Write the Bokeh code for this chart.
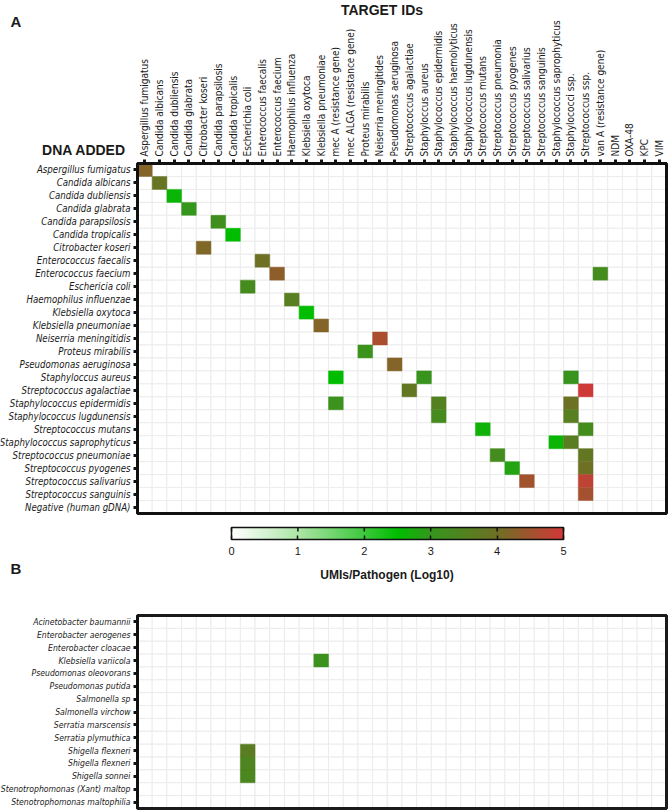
import math
import numpy as np
from bokeh.plotting import figure
from bokeh.models import (Range1d, LinearColorMapper, ColumnDataSource, Label, FixedTicker,
                          LinearAxis, CustomJSTickFormatter)
from bokeh.transform import transform
from bokeh.layouts import column
from bokeh.embed import file_html
from bokeh.resources import INLINE

# ---------------- data ----------------
target_ids = [
    "Aspergillus fumigatus", "Candida albicans", "Candida dubliensis", "Candida glabrata",
    "Citrobacter koseri", "Candida parapsilosis", "Candida tropicalis", "Escherichia coli",
    "Enterococcus faecalis", "Enterococcus faecium", "Haemophilus influenza",
    "Klebsiella oxytoca", "Klebsiella pneumoniae", "mec A (resistance gene)",
    "mec ALGA (resistance gene)", "Proteus mirabilis", "Neiserria meningitides",
    "Pseudomonas aeruginosa", "Streptococcus agalactiae", "Staphyloccus aureus",
    "Staphylococcus epidermidis", "Staphylococcus haemolyticus", "Staphylococcus lugdunensis",
    "Streptococcus mutans", "Streptococcus pneumonia", "Streptococcus pyogenes",
    "Streptococcus salivarius", "Streptococcus sanguinis", "Staphylococcus saprophyticus",
    "Staphylococci ssp.", "Streptococcus ssp.", "van A (resistance gene)",
    "NDM", "OXA-48", "KPC", "VIM",
]

dna_added_a = [
    "Aspergillus fumigatus", "Candida albicans", "Candida dubliensis", "Candida glabrata",
    "Candida parapsilosis", "Candida tropicalis", "Citrobacter koseri", "Enterococcus faecalis",
    "Enterococcus faecium", "Eschericia coli", "Haemophilus influenzae", "Klebsiella oxytoca",
    "Klebsiella pneumoniae", "Neiserria meningitidis", "Proteus mirabilis",
    "Pseudomonas aeruginosa", "Staphyloccus aureus", "Streptococcus agalactiae",
    "Staphylococcus epidermidis", "Staphylococcus lugdunensis", "Streptococcus mutans",
    "Staphylococcus saprophyticus", "Streptococcus pneumoniae", "Streptococcus pyogenes",
    "Streptococcus salivarius", "Streptococcus sanguinis", "Negative (human gDNA)",
]

dna_added_b = [
    "Acinetobacter baumannii", "Enterobacter aerogenes", "Enterobacter cloacae",
    "Klebsiella variicola", "Pseudomonas oleovorans", "Pseudomonas putida", "Salmonella sp",
    "Salmonella virchow", "Serratia marscensis", "Serratia plymuthica", "Shigella flexneri",
    "Shigella flexneri", "Shigella sonnei", "Stenotrophomonas (Xant) maltop",
    "Stenotrophomonas maltophilia",
]

# panel A detections (row = DNA added, col = target ID, value = log10 UMIs)
a_rows = [
    "Aspergillus fumigatus", "Candida albicans", "Candida dubliensis", "Candida glabrata",
    "Candida parapsilosis", "Candida tropicalis", "Citrobacter koseri", "Enterococcus faecalis",
    "Enterococcus faecium", "Enterococcus faecium", "Eschericia coli", "Haemophilus influenzae",
    "Klebsiella oxytoca", "Klebsiella pneumoniae", "Neiserria meningitidis", "Proteus mirabilis",
    "Pseudomonas aeruginosa", "Staphyloccus aureus", "Staphyloccus aureus", "Staphyloccus aureus",
    "Streptococcus agalactiae", "Streptococcus agalactiae", "Staphylococcus epidermidis",
    "Staphylococcus epidermidis", "Staphylococcus epidermidis", "Staphylococcus lugdunensis",
    "Staphylococcus lugdunensis", "Streptococcus mutans", "Streptococcus mutans",
    "Staphylococcus saprophyticus", "Staphylococcus saprophyticus", "Streptococcus pneumoniae",
    "Streptococcus pneumoniae", "Streptococcus pyogenes", "Streptococcus pyogenes",
    "Streptococcus salivarius", "Streptococcus salivarius", "Streptococcus sanguinis",
]
a_cols = [
    "Aspergillus fumigatus", "Candida albicans", "Candida dubliensis", "Candida glabrata",
    "Candida parapsilosis", "Candida tropicalis", "Citrobacter koseri", "Enterococcus faecalis",
    "Enterococcus faecium", "van A (resistance gene)", "Escherichia coli", "Haemophilus influenza",
    "Klebsiella oxytoca", "Klebsiella pneumoniae", "Neiserria meningitides", "Proteus mirabilis",
    "Pseudomonas aeruginosa", "mec A (resistance gene)", "Staphyloccus aureus", "Staphylococci ssp.",
    "Streptococcus agalactiae", "Streptococcus ssp.", "mec A (resistance gene)",
    "Staphylococcus epidermidis", "Staphylococci ssp.", "Staphylococcus epidermidis",
    "Staphylococci ssp.", "Streptococcus mutans", "Streptococcus ssp.",
    "Staphylococcus saprophyticus", "Staphylococci ssp.", "Streptococcus pneumonia",
    "Streptococcus ssp.", "Streptococcus pyogenes", "Streptococcus ssp.",
    "Streptococcus salivarius", "Streptococcus ssp.", "Streptococcus ssp.",
]
a_vals = [
    4.2, 3.85, 2.6, 3.0,
    3.2, 2.5, 4.15, 4.0,
    4.3, 3.25, 3.3, 3.6,
    2.5, 4.2, 4.6, 3.1,
    4.2, 2.5, 3.05, 3.05,
    3.8, 4.95, 3.1,
    3.55, 3.95, 3.3,
    3.6, 2.65, 3.25,
    2.6, 3.65, 3.25,
    3.8, 2.85, 4.0,
    4.5, 4.8, 4.55,
]

# panel B detections (row index in dna_added_b, col = target ID)
b_row_idx = [3, 10, 11, 12]
b_cols = ["Klebsiella pneumoniae", "Escherichia coli", "Escherichia coli", "Escherichia coli"]
b_vals = [3.1, 3.65, 3.45, 3.4]

cbar_ticks = [0, 1, 2, 3, 4, 5]

# ---------------- styling / layout constants ----------------
NARROW = "'Liberation Sans Narrow', 'Arial Narrow', 'DejaVu Sans Condensed', 'Liberation Sans', sans-serif"
SANS = "'Liberation Sans', Arial, sans-serif"
TXT = "#1a1a1a"
W = 669
HM_L, HM_R = 137, 666                      # heat-map box, page x
COL_W = (HM_R - HM_L) / len(target_ids)

anchor_v = [0, 1, 2, 2.5, 3, 4, 5]
anchor_c = [(255, 255, 255), (172, 230, 166), (60, 200, 60), (0, 190, 0),
            (53, 150, 28), (110, 112, 36), (210, 56, 56)]
grid_v = np.linspace(0, 5, 256)
palette = []
for g in grid_v:
    rgb = [int(round(np.interp(g, anchor_v, [c[k] for c in anchor_c]))) for k in range(3)]
    palette.append("#%02x%02x%02x" % tuple(rgb))
mapper = LinearColorMapper(palette=palette, low=0, high=5)


def xd(px):
    """page x -> column coordinate (column i centred on i)"""
    return -0.5 + (px - HM_L) / COL_W


def heat_panel(row_names, fig_top, fig_h, box_top, box_bottom, with_top_axis, row_font):
    n = len(row_names)
    row_h = (box_bottom - box_top) / n

    def yd(py):
        return -0.5 + (py - box_top) / row_h

    p = figure(width=W, height=fig_h,
               x_range=Range1d(xd(0), xd(W)),
               y_range=Range1d(yd(fig_top + fig_h), yd(fig_top)),   # flipped: row 0 on top
               x_axis_location=None, y_axis_location=None,
               toolbar_location=None, tools="", output_backend="svg", min_border=0)
    p.grid.visible = False
    p.outline_line_color = None
    p.background_fill_color = "white"
    p.border_fill_color = "white"

    ncol = len(target_ids)
    gx = [c for r in range(n) for c in range(ncol)]
    gy = [r for r in range(n) for c in range(ncol)]
    p.rect(x=gx, y=gy, width=1, height=1, fill_color="white",
           line_color="#ececec", line_width=1)

    yax = LinearAxis(fixed_location=-0.5, bounds=(-0.5, n - 0.5),
                     ticker=FixedTicker(ticks=list(range(n))),
                     formatter=CustomJSTickFormatter(args=dict(names=row_names),
                                                     code="return names[Math.round(tick)] || '';"))
    yax.axis_line_width = 3
    yax.axis_line_color = "#111111"
    yax.major_tick_line_width = 3
    yax.major_tick_line_color = "#111111"
    yax.major_tick_out = 4
    yax.major_tick_in = 0
    yax.minor_tick_line_color = None
    yax.major_label_standoff = 3
    yax.major_label_text_font = NARROW
    yax.major_label_text_font_style = "italic"
    yax.major_label_text_font_size = row_font
    yax.major_label_text_color = TXT
    p.add_layout(yax, "left")

    if with_top_axis:
        xax = LinearAxis(fixed_location=-0.5, bounds=(-0.5, ncol - 0.5),
                         ticker=FixedTicker(ticks=list(range(ncol))),
                         formatter=CustomJSTickFormatter(args=dict(names=target_ids),
                                                         code="return names[Math.round(tick)] || '';"))
        xax.axis_line_width = 3
        xax.axis_line_color = "#111111"
        xax.major_tick_line_width = 3
        xax.major_tick_line_color = "#111111"
        xax.major_tick_out = 4
        xax.major_tick_in = 0
        xax.minor_tick_line_color = None
        xax.major_label_standoff = 3
        xax.major_label_orientation = math.pi / 2
        xax.major_label_text_font = NARROW
        xax.major_label_text_font_size = "10px"
        xax.major_label_text_color = TXT
        p.add_layout(xax, "above")
    return p, yd


def add_hits(p, xs, ys, vs):
    src = ColumnDataSource(dict(x=xs, y=ys, v=vs))
    p.rect("x", "y", 1, 1, source=src,
           fill_color=transform("v", mapper),
           line_color=transform("v", mapper), line_alpha=0.45, line_width=1)


def add_box(p, nrows, color):
    ncol = len(target_ids)
    p.rect(x=[(ncol - 1) / 2], y=[(nrows - 1) / 2], width=ncol, height=nrows,
           fill_color=None, line_color=color, line_width=3)


def text_label(p, x, y, text, size, align="left"):
    p.add_layout(Label(x=x, y=y, text=text, text_font=SANS, text_font_style="bold",
                       text_font_size=size, text_align=align, text_baseline="middle",
                       text_color=TXT))


# ---------------- panel A (page y 0..520) ----------------
pA, ydA = heat_panel(dna_added_a, 0, 520, 163, 513, True, "9.6px")
add_hits(pA, [target_ids.index(c) for c in a_cols],
         [dna_added_a.index(r) for r in a_rows], a_vals)
add_box(pA, len(dna_added_a), "#111111")
text_label(pA, xd(10), ydA(20.5), "A", "15px")
text_label(pA, xd(381.5), ydA(9), "TARGET IDs", "14px", "center")
text_label(pA, xd(129.5), ydA(149), "DNA  ADDED", "14px", "right")

# ---------------- colour bar (page y 520..590) ----------------
C_TOP, C_H = 520, 70
BAR_L, BAR_R, BAR_T, BAR_B = 231, 563, 527, 539
ppu = (BAR_R - BAR_L) / 5.0
bar_h = BAR_B - BAR_T


def cx(px):
    return (px - BAR_L) / ppu


def cy(py):
    return (BAR_B - py) / bar_h


pC = figure(width=W, height=C_H, x_range=Range1d(cx(0), cx(W)),
            y_range=Range1d(cy(C_TOP + C_H), cy(C_TOP)),
            x_axis_location=None, y_axis_location=None,
            toolbar_location=None, tools="", output_backend="svg", min_border=0)
pC.grid.visible = False
pC.outline_line_color = None
pC.background_fill_color = "white"
pC.border_fill_color = "white"
pC.image(image=[grid_v.reshape(1, -1)], x=0, y=0, dw=5, dh=1, color_mapper=mapper)
pC.segment(x0=cbar_ticks, y0=[1] * len(cbar_ticks), x1=cbar_ticks,
           y1=[1 - 4 / bar_h] * len(cbar_ticks), line_color="#111111", line_width=1.5)
pC.rect(x=[2.5], y=[0.5], width=5, height=1, fill_color=None,
        line_color="#111111", line_width=1.5)
cax = LinearAxis(fixed_location=0, bounds=(0, 5), ticker=FixedTicker(ticks=cbar_ticks))
cax.axis_line_color = None
cax.major_tick_in = 4
cax.major_tick_out = 0
cax.major_tick_line_width = 1.5
cax.major_tick_line_color = "#111111"
cax.minor_tick_line_color = None
cax.major_label_standoff = 7
cax.major_label_text_font = SANS
cax.major_label_text_font_size = "11px"
cax.major_label_text_color = TXT
pC.add_layout(cax, "below")
text_label(pC, cx(386.5), cy(574), "UMIs/Pathogen (Log10)", "12px", "center")
text_label(pC, cx(10), cy(568), "B", "15px")

# ---------------- panel B (page y 590..810) ----------------
pB, ydB = heat_panel(dna_added_b, 590, 220, 615, 808, False, "8.6px")
add_hits(pB, [target_ids.index(c) for c in b_cols], b_row_idx, b_vals)
add_box(pB, len(dna_added_b), "#1a1a1a")

layout = column(pA, pC, pB)
open("out.html", "w").write(file_html(layout, INLINE))
